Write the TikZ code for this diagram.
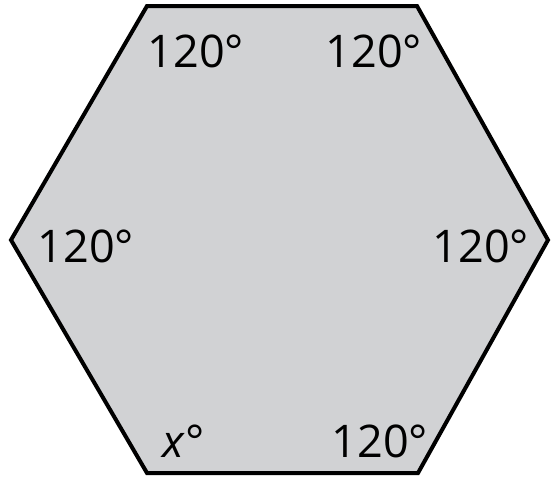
\documentclass[tikz,border=0pt]{standalone}
\usepackage{fontspec}
\setmainfont{Open Sans}
\usepackage{tikz}
\definecolor{hexfill}{RGB}{209,210,212}

\begin{document}
\begin{tikzpicture}[
  x=1pt,y=-1pt,
  ang/.style={font=\fontsize{45}{45}\selectfont,inner sep=0pt,anchor=base},
  edge/.style={draw=black,line width=4pt,line join=miter,fill=hexfill}
]
\useasboundingbox (0,0) rectangle (552,479);
% hexagon corners
\coordinate (tl) at (147,6);
\coordinate (tr) at (417,6);
\coordinate (r) at (548,240);
\coordinate (br) at (418,473);
\coordinate (bl) at (147,473);
\coordinate (l) at (11,240);
\path[edge] (tl)--(tr)--(r)--(br)--(bl)--(l)--cycle;
% angle labels
\node[ang] (atl) at (196,67) {120°};
\node[ang] (atr) at (374,67) {120°};
\node[ang] (al) at (86,262) {120°};
\node[ang] (ar) at (481,262) {120°};
\node[ang] (abr) at (380,457) {120°};
\node[ang] (abl) at (184,457) {\textit{x}°};
\end{tikzpicture}
\end{document}
